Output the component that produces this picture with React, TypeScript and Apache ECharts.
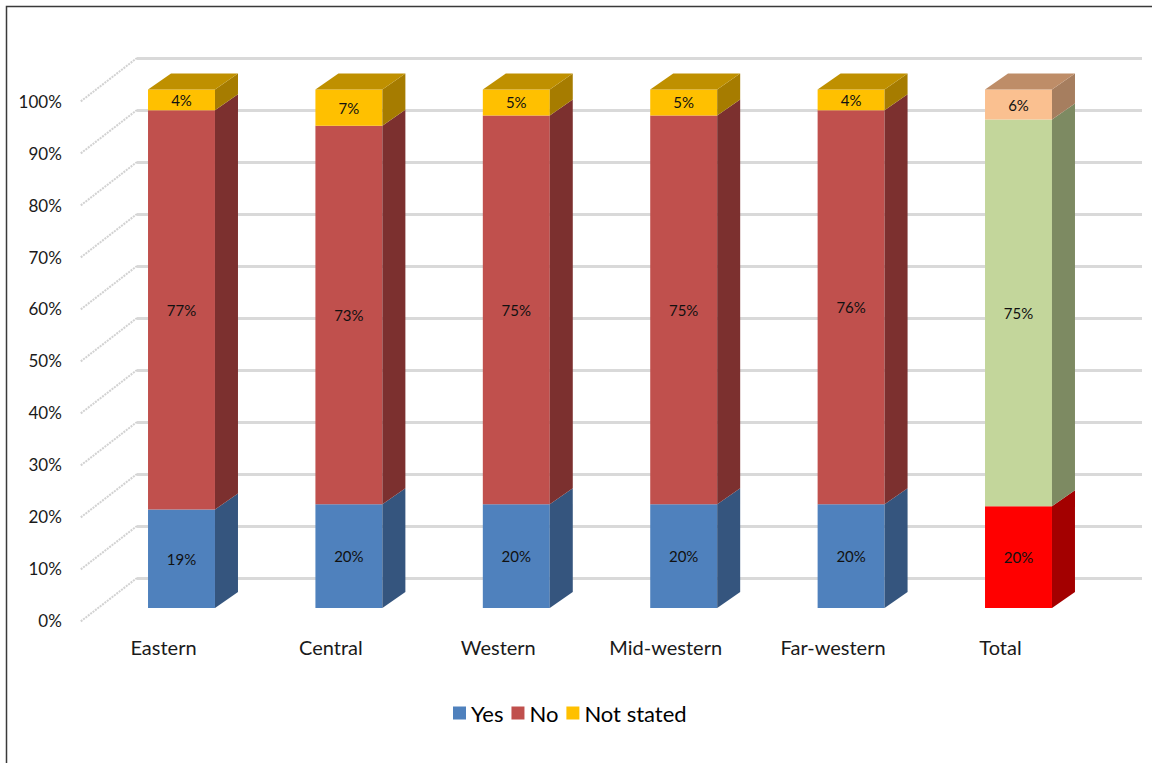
import React, { useEffect, useRef } from "react";
import * as echarts from "echarts";

const categories = ["Eastern", "Central", "Western", "Mid-western", "Far-western", "Total"];
const seriesNames = ["Yes", "No", "Not stated"];
const yesValues = [19, 20, 20, 20, 20, 19.6];
const noValues = [77, 73, 75, 75, 76, 74.6];
const notStatedValues = [4, 7, 5, 5, 4, 5.8];
const tickValues = [0, 10, 20, 30, 40, 50, 60, 70, 80, 90, 100];

const FONT = "Lato, 'Noto Sans', sans-serif";

// front, side, top colours per series (regular bars / Total bar)
const regularColors = [
  { front: "#4F81BD", side: "#35557E", top: "#3F6797" },
  { front: "#C0504D", side: "#7C302F", top: "#983E3B" },
  { front: "#FFC000", side: "#A67C00", top: "#BF9000" },
];
const totalColors = [
  { front: "#FF0000", side: "#A30000", top: "#C00000" },
  { front: "#C3D69B", side: "#7D8A62", top: "#98A878" },
  { front: "#FAC090", side: "#A67E5F", top: "#BE8D68" },
];

const DX = 23;
const DY = -16;

function makeRender(sIdx: number) {
  return (params: any, api: any) => {
    const i = api.value(0);
    const base = api.value(1);
    const val = api.value(2);
    const pTop = api.coord([i, base + val]);
    const pBot = api.coord([i, base]);
    const w = api.size([1, 0])[0] * 0.4;
    const x0 = pTop[0] - w / 2;
    const x1 = pTop[0] + w / 2;
    const yT = pTop[1];
    const yB = pBot[1];
    const c = categories[i] === "Total" ? totalColors[sIdx] : regularColors[sIdx];
    const children: any[] = [
      {
        type: "rect",
        shape: { x: x0, y: yT, width: w, height: yB - yT },
        style: { fill: c.front },
      },
      {
        type: "polygon",
        shape: {
          points: [
            [x1, yT],
            [x1 + DX, yT + DY],
            [x1 + DX, yB + DY],
            [x1, yB],
          ],
        },
        style: { fill: c.side },
      },
    ];
    if (sIdx === 2) {
      children.push({
        type: "polygon",
        shape: {
          points: [
            [x0, yT],
            [x0 + DX, yT + DY],
            [x1 + DX, yT + DY],
            [x1, yT],
          ],
        },
        style: { fill: c.top },
      });
    }
    children.push({
      type: "text",
      style: {
        text: Math.round(val) + "%",
        x: pTop[0],
        y: (yT + yB) / 2,
        align: "center",
        verticalAlign: "middle",
        fontSize: 15,
        fontFamily: FONT,
        fill: "#111",
      },
    });
    return { type: "group", children };
  };
}

export default function App() {
  const ref = useRef<HTMLDivElement>(null);
  useEffect(() => {
    if (!ref.current) return;
    const chart = echarts.init(ref.current, null, { renderer: "svg" });
    const stacks = [yesValues, noValues, notStatedValues];
    const bases = stacks.map((_, s) =>
      categories.map((__, i) => {
        let b = 0;
        for (let k = 0; k < s; k++) b += stacks[k][i];
        return b;
      })
    );
    const barSeries = stacks.map((vals, s) => ({
      name: seriesNames[s],
      type: "custom",
      xAxisIndex: 0,
      yAxisIndex: 0,
      clip: false,
      z: 10,
      itemStyle: { color: regularColors[s].front },
      renderItem: makeRender(s),
      data: vals.map((v, i) => [i, bases[s][i], v]),
    }));
    const option: any = {
      animation: false,
      graphic: [
        {
          type: "rect",
          shape: { x: 6.5, y: 6.5, width: 1300, height: 900 },
          style: { fill: "none", stroke: "#3a3a3a", lineWidth: 1.5 },
          z: 100,
        },
      ],
      legend: {
        data: seriesNames,
        left: 448,
        top: 697,
        icon: "rect",
        itemWidth: 13,
        itemHeight: 13,
        itemGap: 8,
        textStyle: { fontSize: 22, color: "#000", fontFamily: FONT },
      },
      grid: [
        { left: 97.8, top: 89.5, width: 1004.4, height: 518.5 },
        { left: 137, top: 58, width: 1005, height: 520 },
        { left: 79.8, top: 101.5, width: 1004.4, height: 518.5 },
      ],
      xAxis: [
        { type: "category", gridIndex: 0, data: categories, show: false },
        { type: "value", gridIndex: 1, min: 0, max: 1, show: false },
        {
          type: "category",
          gridIndex: 2,
          data: categories,
          axisLine: { show: false },
          axisTick: { show: false },
          axisLabel: { margin: 17, fontSize: 20, color: "#1a1a1a", fontFamily: FONT },
        },
      ],
      yAxis: [
        { type: "value", gridIndex: 0, min: 0, max: 100, interval: 10, show: false },
        {
          type: "value",
          gridIndex: 1,
          min: 0,
          max: 100,
          interval: 10,
          axisLine: { show: false },
          axisTick: { show: false },
          axisLabel: { show: false },
          splitLine: { show: true, lineStyle: { color: "#d9d9d9", width: 3 } },
        },
        {
          type: "value",
          gridIndex: 2,
          min: 0,
          max: 100,
          interval: 10,
          axisLine: { show: false },
          axisTick: { show: false },
          splitLine: { show: false },
          axisLabel: {
            margin: 18,
            fontSize: 17,
            color: "#1a1a1a",
            fontFamily: FONT,
            formatter: (v: number) => v + "%",
          },
        },
      ],
      series: [
        {
          name: "diagonals",
          type: "custom",
          xAxisIndex: 1,
          yAxisIndex: 1,
          clip: false,
          z: 1,
          silent: true,
          renderItem: (params: any, api: any) => {
            const p = api.coord([0, api.value(1)]);
            return {
              type: "line",
              shape: { x1: p[0], y1: p[1], x2: p[0] - 57, y2: p[1] + 44 },
              style: { stroke: "#d2d2d2", lineWidth: 2, lineDash: [2, 1] },
            };
          },
          data: tickValues.map((v) => [0, v]),
        },
        ...barSeries,
      ],
    };
    chart.setOption(option);
    return () => chart.dispose();
  }, []);
  return (
    <div
      ref={ref}
      style={{ position: "fixed", left: 0, top: 0, width: 1152, height: 763, background: "#fff" }}
    />
  );
}
